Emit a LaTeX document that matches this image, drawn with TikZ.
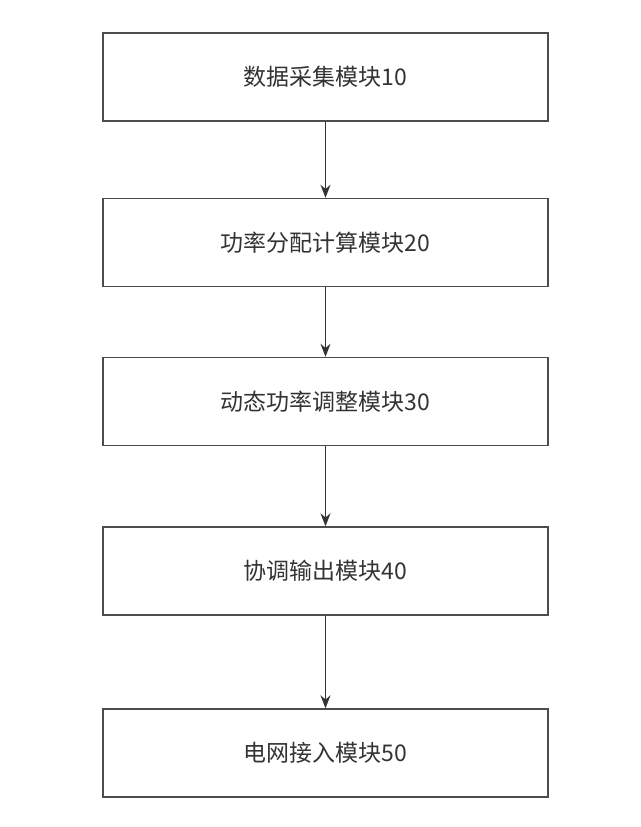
\documentclass[tikz,border=0pt]{standalone}
\usepackage{fontspec}
\setmainfont{Noto Sans CJK SC}
\usetikzlibrary{arrows.meta}
\begin{document}
\begin{tikzpicture}[x=1pt,y=-1pt,
  blk/.style={draw=black!70,line width=1.4pt,minimum width=445pt,minimum height=88pt,inner sep=0pt,font=\fontsize{23}{26}\selectfont,text=black!80},
  conn/.style={-{Stealth[length=13pt,width=10pt]},line width=1.3pt,draw=black!80}]
\useasboundingbox[fill=white] (0,0) rectangle (640,827);
\node[blk] (a) at (325.5,77) {数据采集模块10};
\node[blk] (b) at (325.5,242.5) {功率分配计算模块20};
\node[blk] (c) at (325.5,401.5) {动态功率调整模块30};
\node[blk] (d) at (325.5,571) {协调输出模块40};
\node[blk] (e) at (325.5,753) {电网接入模块50};
\draw[conn] (a) -- (b);
\draw[conn] (b) -- (c);
\draw[conn] (c) -- (d);
\draw[conn] (d) -- (e);
\end{tikzpicture}
\end{document}
